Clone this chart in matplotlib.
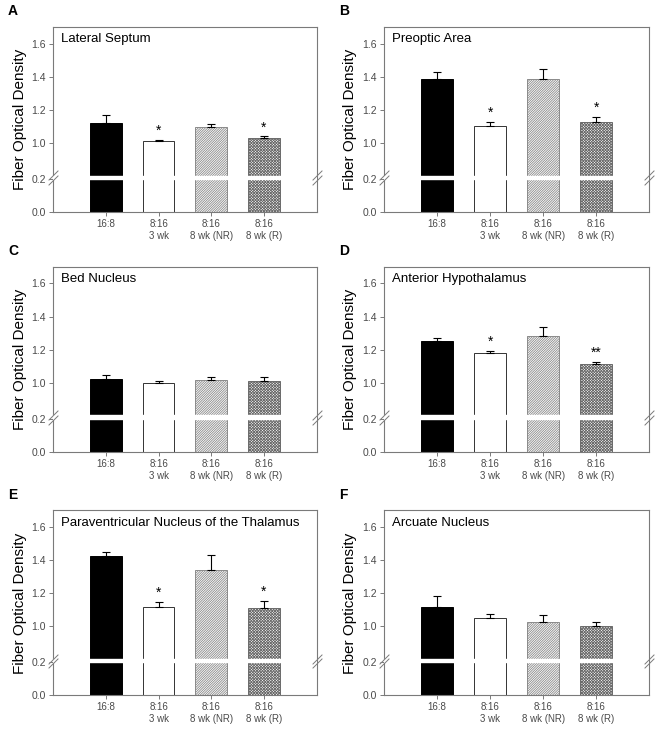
import numpy as np
import matplotlib
matplotlib.use("Agg")
import matplotlib.pyplot as plt
from matplotlib.transforms import ScaledTranslation

plt.rcParams['font.family'] = ['Liberation Sans', 'DejaVu Sans']
plt.rcParams['hatch.linewidth'] = 0.6

# groups and tick labels
groups = ["16:8", "8:16\n3 wk", "8:16\n8 wk (NR)", "8:16\n8 wk (R)"]
panel_letters = ["A", "B", "C", "D", "E", "F"]
regions = ["Lateral Septum", "Preoptic Area", "Bed Nucleus",
           "Anterior Hypothalamus", "Paraventricular Nucleus of the Thalamus",
           "Arcuate Nucleus"]

# means and top of error bar (mean + SEM)
means_ls = [1.12, 1.01, 1.095, 1.03]
tops_ls = [1.17, 1.02, 1.115, 1.04]
means_poa = [1.385, 1.105, 1.385, 1.13]
tops_poa = [1.43, 1.13, 1.445, 1.16]
means_bn = [1.022, 1.002, 1.015, 1.01]
tops_bn = [1.045, 1.01, 1.035, 1.035]
means_ah = [1.25, 1.178, 1.282, 1.112]
tops_ah = [1.27, 1.195, 1.34, 1.128]
means_pvt = [1.427, 1.118, 1.342, 1.114]
tops_pvt = [1.447, 1.146, 1.43, 1.156]
means_arc = [1.118, 1.053, 1.026, 1.002]
tops_arc = [1.185, 1.075, 1.067, 1.026]

stars_ls = ["", "*", "", "*"]
stars_poa = ["", "*", "", "*"]
stars_bn = ["", "", "", ""]
stars_ah = ["", "*", "", "**"]
stars_pvt = ["", "*", "", "*"]
stars_arc = ["", "", "", ""]

all_means = [means_ls, means_poa, means_bn, means_ah, means_pvt, means_arc]
all_tops = [tops_ls, tops_poa, tops_bn, tops_ah, tops_pvt, tops_arc]
all_stars = [stars_ls, stars_poa, stars_bn, stars_ah, stars_pvt, stars_arc]

yticks = [0.0, 0.2, 1.0, 1.2, 1.4, 1.6]

# broken axis: 0.2..0.8 squeezed into a small gap
LO, HI, GAP = 0.2, 0.8, 0.016


def fwd(v):
    v = np.asarray(v, dtype=float)
    return np.where(v <= LO, v,
                    np.where(v >= HI, v - (HI - LO) + GAP,
                             LO + (v - LO) * GAP / (HI - LO)))


def inv(y):
    y = np.asarray(y, dtype=float)
    return np.where(y <= LO, y,
                    np.where(y >= LO + GAP, y + (HI - LO) - GAP,
                             LO + (y - LO) * (HI - LO) / GAP))


fig = plt.figure(figsize=(6.64, 7.29), dpi=100)

col_left = [0.080, 0.578]
col_width = [0.397, 0.400]
row_bottom = [0.709, 0.380, 0.046]
height = 0.254

face = ["black", "white", "white", "white"]
edge = ["black", "#333333", "#8a8a8a", "#6a6a6a"]
hatches = [None, None, "/" * 14, "x" * 12]
spine_c = "#7a7a7a"
tick_c = "#4a4a4a"

x = np.arange(len(groups))

for i in range(6):
    r, c = divmod(i, 2)
    ax = fig.add_axes([col_left[c], row_bottom[r], col_width[c], height])
    ax.set_yscale('function', functions=(fwd, inv))
    means = np.array(all_means[i])
    tops = np.array(all_tops[i])

    for j in range(len(groups)):
        ax.bar(x[j], means[j], width=0.6, color=face[j], edgecolor=edge[j],
               hatch=hatches[j], linewidth=0.7, zorder=2)
    ax.errorbar(x, means, yerr=[np.zeros_like(means), tops - means],
                fmt='none', ecolor='black', elinewidth=0.8, capsize=3,
                capthick=0.8, zorder=4)
    for j, s in enumerate(all_stars[i]):
        if s:
            ax.text(x[j], tops[j] + 0.012, s, ha='center', va='bottom',
                    fontsize=10, zorder=5)

    # white gap across the bars and spines at the break
    ax.axhspan(LO, HI + 0.004, color='white', zorder=3)
    ytr = ax.get_yaxis_transform()
    for xa in (0, 1):
        for dy in (-1.6, 1.6):
            off = ScaledTranslation(0, dy / 72, fig.dpi_scale_trans)
            ax.plot([xa], [0.5], marker=[(-1, -1), (1, 1)], markersize=7,
                    markeredgewidth=0.7, color=spine_c, transform=ytr + off,
                    clip_on=False, zorder=6)

    ax.set_xlim(-1, 4)
    ax.set_ylim(0, 1.7)
    ax.set_yticks(yticks)
    ax.set_yticklabels(["%.1f" % t for t in yticks])
    ax.set_xticks(x)
    ax.set_xticklabels(groups)
    ax.minorticks_off()
    ax.tick_params(axis='both', direction='out', length=3, width=0.7,
                   color=spine_c, labelcolor=tick_c, pad=2)
    ax.tick_params(axis='y', labelsize=7.5)
    ax.tick_params(axis='x', labelsize=7)
    for sp in ax.spines.values():
        sp.set_color(spine_c)
        sp.set_linewidth(0.8)

    ax.set_ylabel("Fiber Optical Density", fontsize=11)
    ax.yaxis.set_label_coords(-0.1, 0.5)
    ax.text(0.03, 0.965, regions[i], transform=ax.transAxes, ha='left',
            va='top', fontsize=9.5)

    fig.text(col_left[c] - 0.068, row_bottom[r] + height + 0.012,
             panel_letters[i], fontsize=10, fontweight='bold', ha='left',
             va='bottom')

fig.savefig("out.png", dpi=100)
